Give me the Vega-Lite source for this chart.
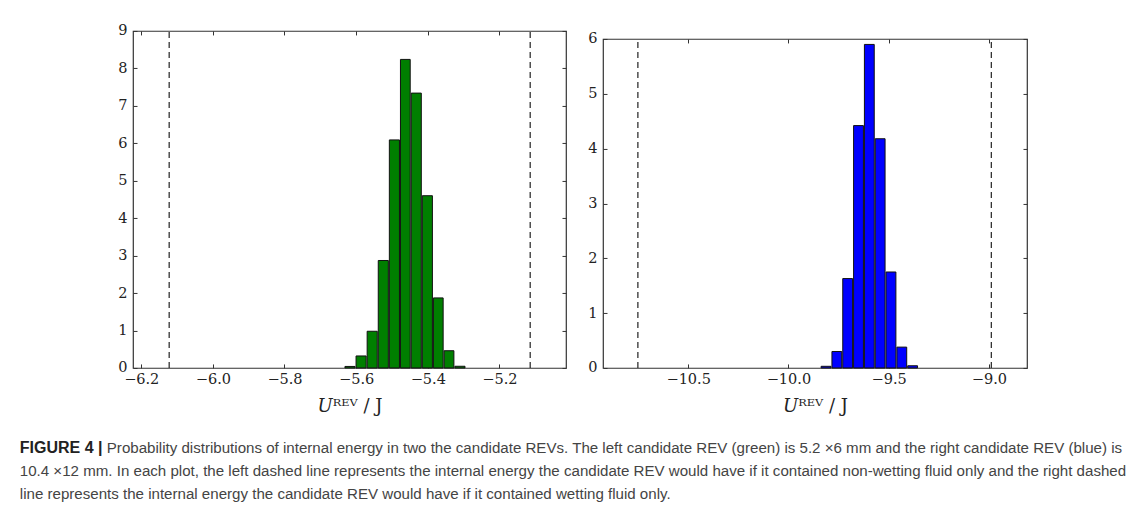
{
  "$schema": "https://vega.github.io/schema/vega-lite/v6.json",
  "background": "white",
  "padding": {"left": 18, "top": 8.5, "right": 0, "bottom": 0},
  "config": {
    "view": {"stroke": "#333", "strokeWidth": 1.2},
    "axis": {
      "domain": false, "grid": false,
      "labelFont": "DejaVu Serif", "labelFontSize": 14.5, "labelColor": "#222",
      "tickColor": "#333", "tickSize": -4, "tickWidth": 1,
      "titleFont": "DejaVu Serif", "titleFontSize": 18, "titleFontWeight": "normal", "titleColor": "#222"
    }
  },
  "datasets": {
    "left_bars": [
      {"x0": -5.634, "x1": -5.603, "density": 0.04},
      {"x0": -5.603, "x1": -5.572, "density": 0.32},
      {"x0": -5.572, "x1": -5.541, "density": 0.98},
      {"x0": -5.541, "x1": -5.510, "density": 2.87},
      {"x0": -5.510, "x1": -5.479, "density": 6.09},
      {"x0": -5.479, "x1": -5.449, "density": 8.24},
      {"x0": -5.449, "x1": -5.418, "density": 7.34},
      {"x0": -5.418, "x1": -5.387, "density": 4.60},
      {"x0": -5.387, "x1": -5.357, "density": 1.87},
      {"x0": -5.357, "x1": -5.327, "density": 0.46},
      {"x0": -5.327, "x1": -5.296, "density": 0.045}
    ],
    "right_bars": [
      {"x0": -9.842, "x1": -9.788, "density": 0.03},
      {"x0": -9.788, "x1": -9.734, "density": 0.30},
      {"x0": -9.734, "x1": -9.680, "density": 1.63},
      {"x0": -9.680, "x1": -9.626, "density": 4.42},
      {"x0": -9.626, "x1": -9.572, "density": 5.90},
      {"x0": -9.572, "x1": -9.518, "density": 4.18},
      {"x0": -9.518, "x1": -9.464, "density": 1.75},
      {"x0": -9.464, "x1": -9.410, "density": 0.38},
      {"x0": -9.410, "x1": -9.356, "density": 0.04}
    ],
    "left_lines": [{"u": -6.122}, {"u": -5.114}],
    "right_lines": [{"u": -10.751}, {"u": -8.988}],
    "caption": [
      {"line": 1, "part": "head", "text": "FIGURE 4 |"},
      {"line": 1, "part": "first", "text": "Probability distributions of internal energy in two the candidate REVs. The left candidate REV (green) is 5.2 ×6 mm and the right candidate REV (blue) is"},
      {"line": 2, "part": "body", "text": "10.4 ×12 mm. In each plot, the left dashed line represents the internal energy the candidate REV would have if it contained non-wetting fluid only and the right dashed"},
      {"line": 3, "part": "body", "text": "line represents the internal energy the candidate REV would have if it contained wetting fluid only."}
    ]
  },
  "spacing": 15,
  "vconcat": [
    {
      "spacing": 19,
      "center": true,
      "hconcat": [
        {
          "width": 433, "height": 337,
          "resolve": {"axis": {"x": "independent", "y": "independent"}},
          "layer": [
            {
              "data": {"name": "left_bars"},
              "mark": {"type": "bar", "fill": "#007f00", "stroke": "#111", "strokeWidth": 1},
              "encoding": {
                "x": {"field": "x0", "type": "quantitative", "bin": "binned",
                      "scale": {"domain": [-6.223, -5.014], "nice": false, "zero": false},
                      "axis": {"orient": "bottom", "values": [-6.2, -6.0, -5.8, -5.6, -5.4, -5.2], "format": ".1f", "labelPadding": 9, "titlePadding": 11, "titleLineHeight": 8},
                      "title": ["𝑈ᴿᴱⱽ / J", ""]},
                "x2": {"field": "x1"},
                "y": {"field": "density", "type": "quantitative",
                      "scale": {"domain": [0, 9], "nice": false},
                      "axis": {"orient": "left", "values": [0, 1, 2, 3, 4, 5, 6, 7, 8, 9], "format": "d", "labelPadding": 10, "minExtent": 113.7},
                      "title": null}
              }
            },
            {
              "data": {"name": "left_lines"},
              "mark": {"type": "rule", "color": "#222", "strokeWidth": 1.2, "strokeDash": [6, 4]},
              "encoding": {
                "x": {"field": "u", "type": "quantitative",
                      "axis": {"orient": "top", "values": [-6.2, -6.0, -5.8, -5.6, -5.4, -5.2], "labels": false, "minExtent": 21.5}, "title": null},
                "y": {"datum": 0, "axis": {"orient": "right", "values": [0, 1, 2, 3, 4, 5, 6, 7, 8, 9], "labels": false}, "title": null},
                "y2": {"datum": 9}
              }
            }
          ]
        },
        {
          "width": 424, "height": 329,
          "resolve": {"axis": {"x": "independent", "y": "independent"}},
          "layer": [
            {
              "data": {"name": "right_bars"},
              "mark": {"type": "bar", "fill": "#0000ff", "stroke": "#111", "strokeWidth": 1},
              "encoding": {
                "x": {"field": "x0", "type": "quantitative", "bin": "binned",
                      "scale": {"domain": [-10.925, -8.81], "nice": false, "zero": false},
                      "axis": {"orient": "bottom", "values": [-10.5, -10.0, -9.5, -9.0], "format": ".1f", "labelPadding": 9, "titlePadding": 11},
                      "title": "𝑈ᴿᴱⱽ / J"},
                "x2": {"field": "x1"},
                "y": {"field": "density", "type": "quantitative",
                      "scale": {"domain": [0, 6], "nice": false},
                      "axis": {"orient": "left", "values": [0, 1, 2, 3, 4, 5, 6], "format": "d", "labelPadding": 10},
                      "title": null}
              }
            },
            {
              "data": {"name": "right_lines"},
              "mark": {"type": "rule", "color": "#222", "strokeWidth": 1.2, "strokeDash": [6, 4]},
              "encoding": {
                "x": {"field": "u", "type": "quantitative",
                      "axis": {"orient": "top", "values": [-10.5, -10.0, -9.5, -9.0], "labels": false}, "title": null},
                "y": {"datum": 0, "axis": {"orient": "right", "values": [0, 1, 2, 3, 4, 5, 6], "labels": false}, "title": null},
                "y2": {"datum": 6}
              }
            }
          ]
        }
      ]
    },
    {
      "width": 1,
      "height": {"step": 23},
      "view": {"stroke": null},
      "data": {"name": "caption"},
      "encoding": {
        "y": {"field": "line", "type": "ordinal", "axis": null},
        "text": {"field": "text"}
      },
      "layer": [
        {
          "transform": [{"filter": "datum.part === 'head'"}],
          "mark": {"type": "text", "align": "left", "baseline": "alphabetic", "dx": -113.7, "font": "Liberation Sans", "fontSize": 16, "fontWeight": "bold", "color": "#222"}
        },
        {
          "transform": [{"filter": "datum.part === 'first'"}],
          "mark": {"type": "text", "align": "left", "baseline": "alphabetic", "dx": -26.7, "font": "Liberation Sans", "fontSize": 15.1, "color": "#444"}
        },
        {
          "transform": [{"filter": "datum.part === 'body'"}],
          "mark": {"type": "text", "align": "left", "baseline": "alphabetic", "dx": -113.7, "font": "Liberation Sans", "fontSize": 15.1, "color": "#444"}
        }
      ]
    }
  ]
}
